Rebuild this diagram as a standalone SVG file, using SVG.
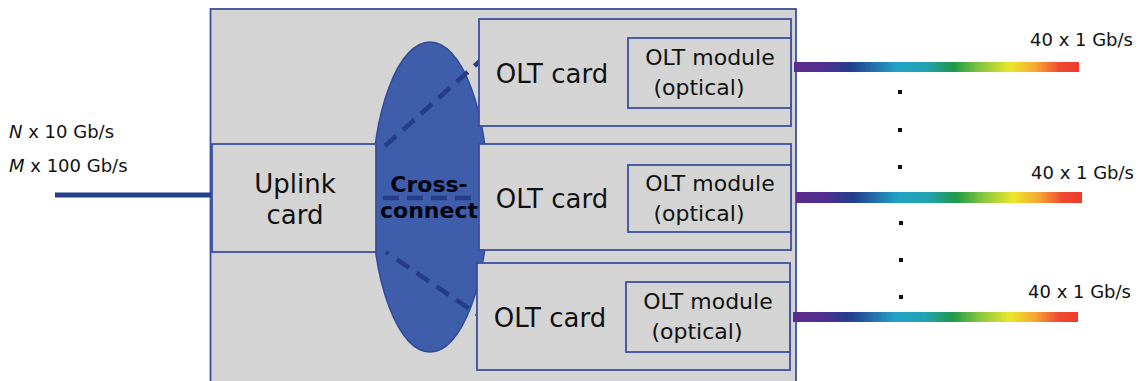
<svg xmlns="http://www.w3.org/2000/svg" width="1140" height="381" viewBox="0 0 1140 381">
  <defs>
    <linearGradient id="spectrum" x1="0" y1="0" x2="1" y2="0">
      <stop offset="0" stop-color="#5b2c8e"/>
      <stop offset="0.1" stop-color="#512e90"/>
      <stop offset="0.2" stop-color="#223f8f"/>
      <stop offset="0.36" stop-color="#22a3c6"/>
      <stop offset="0.46" stop-color="#23a3b4"/>
      <stop offset="0.56" stop-color="#1f9a47"/>
      <stop offset="0.66" stop-color="#8cc83e"/>
      <stop offset="0.76" stop-color="#ece72a"/>
      <stop offset="0.85" stop-color="#f7a533"/>
      <stop offset="0.93" stop-color="#ef4b32"/>
      <stop offset="1" stop-color="#ee3a2c"/>
    </linearGradient>
    <style>
      .box { fill: #d4d4d4; stroke: #3b4f9e; stroke-width: 1.8; }
      .t { font-family: "DejaVu Sans", Verdana, sans-serif; fill: #111; }
      .big { font-size: 26px; }
      .mod { font-size: 22px; }
      .rate { font-size: 18px; }
      .xc { font-family: "DejaVu Sans", Verdana, sans-serif; font-weight: bold; font-size: 22px; fill: #050510; }
      .dash { stroke: #263c88; stroke-width: 4.5; fill: none; }
      .bar { fill: url(#spectrum); }
      .dot { fill: #111; }
    </style>
  </defs>

  <!-- chassis -->
  <g id="chassis">
    <rect x="210.5" y="9" width="585.5" height="380" class="box"/>
  </g>

  <!-- cross-connect fabric -->
  <g id="cross-connect">
    <ellipse cx="430" cy="197" rx="58" ry="155" fill="#3e5eac" stroke="#2f4a98" stroke-width="1.5"/>
  </g>

  <!-- links through the fabric and the uplink feed -->
  <g id="connectors">
    <line x1="55" y1="195" x2="211" y2="195" stroke="#243f8a" stroke-width="5"/>
    <line x1="385" y1="146" x2="480" y2="61" class="dash" stroke-dasharray="15 9"/>
    <line x1="383" y1="198" x2="479" y2="198" class="dash" stroke-dasharray="16 8"/>
    <line x1="386" y1="252" x2="480" y2="316" class="dash" stroke-dasharray="3 10 15 9 15 9 15 9 15 9"/>
  </g>

  <g id="uplink-card">
    <rect x="212" y="144" width="164" height="108" class="box"/>
    <text x="295" y="193" class="t big" text-anchor="middle">Uplink</text>
    <text x="295" y="224" class="t big" text-anchor="middle">card</text>
  </g>

  <g id="olt-card-1">
    <rect x="479" y="19" width="312" height="107" class="box"/>
    <text x="552" y="83" class="t big" text-anchor="middle">OLT card</text>
    <rect x="628" y="38" width="163" height="70" class="box"/>
    <text x="710" y="65" class="t mod" text-anchor="middle">OLT module</text>
    <text x="699" y="95" class="t mod" text-anchor="middle">(optical)</text>
  </g>

  <g id="olt-card-2">
    <rect x="479" y="144" width="312" height="106" class="box"/>
    <text x="552" y="208" class="t big" text-anchor="middle">OLT card</text>
    <rect x="628" y="165" width="163" height="67" class="box"/>
    <text x="710" y="191" class="t mod" text-anchor="middle">OLT module</text>
    <text x="699" y="221" class="t mod" text-anchor="middle">(optical)</text>
  </g>

  <g id="olt-card-3">
    <rect x="477" y="263" width="313" height="107" class="box"/>
    <text x="550" y="327" class="t big" text-anchor="middle">OLT card</text>
    <rect x="626" y="282" width="164" height="70" class="box"/>
    <text x="708" y="309" class="t mod" text-anchor="middle">OLT module</text>
    <text x="697" y="339" class="t mod" text-anchor="middle">(optical)</text>
  </g>

  <!-- fabric label drawn over the links -->
  <g id="cross-connect-label">
    <text x="429" y="192" class="xc" text-anchor="middle">Cross-</text>
    <text x="429" y="218" class="xc" text-anchor="middle">connect</text>
  </g>

  <!-- uplink rates -->
  <g id="uplink-rates">
    <text x="9" y="138" class="t rate"><tspan font-style="italic">N</tspan> x 10 Gb/s</text>
    <text x="9" y="172" class="t rate"><tspan font-style="italic">M</tspan> x 100 Gb/s</text>
  </g>

  <!-- optical outputs -->
  <g id="pon-1">
    <rect x="794" y="62" width="285" height="10" class="bar"/>
    <text x="1133" y="46" class="t rate" text-anchor="end">40 x 1 Gb/s</text>
  </g>
  <g id="pon-2">
    <rect x="796" y="192" width="286" height="11" class="bar"/>
    <text x="1134" y="179" class="t rate" text-anchor="end">40 x 1 Gb/s</text>
  </g>
  <g id="pon-3">
    <rect x="793" y="312" width="285" height="10" class="bar"/>
    <text x="1131" y="298" class="t rate" text-anchor="end">40 x 1 Gb/s</text>
  </g>

  <!-- ellipsis dots -->
  <g id="ellipsis">
    <rect x="898" y="90" width="4" height="4" class="dot"/>
    <rect x="898" y="128" width="4" height="4" class="dot"/>
    <rect x="898" y="165" width="4" height="4" class="dot"/>
    <rect x="899" y="221" width="4" height="4" class="dot"/>
    <rect x="899" y="258" width="4" height="4" class="dot"/>
    <rect x="899" y="295" width="4" height="4" class="dot"/>
  </g>
</svg>
